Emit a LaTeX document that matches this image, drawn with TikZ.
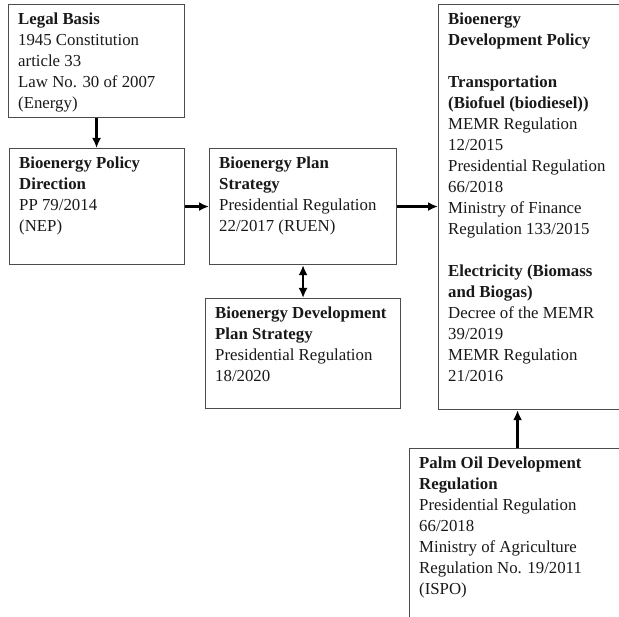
\documentclass[tikz,border=0pt]{standalone}
\usepackage{fontspec}
\setmainfont{Liberation Serif}
\usetikzlibrary{arrows.meta}
\begin{document}
\begin{tikzpicture}[x=1pt,y=-1pt,
  box/.style={draw=black!70,line width=1.1pt,anchor=north west,inner sep=0pt,minimum width=#1},
  txt/.style={anchor=north west,inner sep=0pt,align=left,text=black!90,font=\fontsize{16.8}{21}\selectfont},
  arr/.style={draw=black,line width=2.6pt,-{Latex[length=10pt,width=9pt]}},
  darr/.style={draw=black,line width=2.6pt,{Latex[length=10pt,width=9pt]}-{Latex[length=10pt,width=9pt]}}]
\useasboundingbox (0,0) rectangle (619,617);
\clip (0,0) rectangle (619,617);
\fill[white] (0,0) rectangle (619,617);
% boxes
\node[box=176pt,minimum height=113pt] (legal) at (8,4) {};
\node[box=175pt,minimum height=116pt] (policy) at (9,148) {};
\node[box=187pt,minimum height=116pt] (plan) at (209,148) {};
\node[box=195pt,minimum height=110pt] (devplan) at (205,298) {};
\node[box=190pt,minimum height=405pt] (bigpol) at (438,4) {};
\node[box=216pt,minimum height=200pt] (palm) at (409,448) {};
% texts
\node[txt] (legalt) at ([shift={(10,9)}]legal.north west) {\textbf{Legal Basis}\\1945 Constitution\\article 33\\Law No. 30 of 2007\\(Energy)};
\node[txt] (policyt) at ([shift={(10,9)}]policy.north west) {\textbf{Bioenergy Policy}\\\textbf{Direction}\\PP 79/2014\\(NEP)};
\node[txt] (plant) at ([shift={(10,9)}]plan.north west) {\textbf{Bioenergy Plan}\\\textbf{Strategy}\\Presidential Regulation\\22/2017 (RUEN)};
\node[txt] (devplant) at ([shift={(10,9)}]devplan.north west) {\textbf{Bioenergy Development}\\\textbf{Plan Strategy}\\Presidential Regulation\\18/2020};
\node[txt] (bigpolt) at ([shift={(10,9)}]bigpol.north west) {\textbf{Bioenergy}\\\textbf{Development Policy}\\[21pt]\textbf{Transportation}\\\textbf{(Biofuel (biodiesel))}\\MEMR Regulation\\12/2015\\Presidential Regulation\\66/2018\\Ministry of Finance\\Regulation 133/2015\\[21pt]\textbf{Electricity (Biomass}\\\textbf{and Biogas)}\\Decree of the MEMR\\39/2019\\MEMR Regulation\\21/2016};
\node[txt] (palmt) at ([shift={(10,9)}]palm.north west) {\textbf{Palm Oil Development}\\\textbf{Regulation}\\Presidential Regulation\\66/2018\\Ministry of Agriculture\\Regulation No. 19/2011\\(ISPO)};
% connectors
\draw[arr] (legal.south) -- (policy.north -| legal.south);
\draw[arr] (policy.east) -- (plan.west |- policy.east);
\draw[arr] (plan.east) -- (bigpol.west |- plan.east);
\draw[darr] (plan.south) -- (devplan.north -| plan.south);
\draw[arr] (palm.north) -- (bigpol.south -| palm.north);
\end{tikzpicture}
\end{document}
